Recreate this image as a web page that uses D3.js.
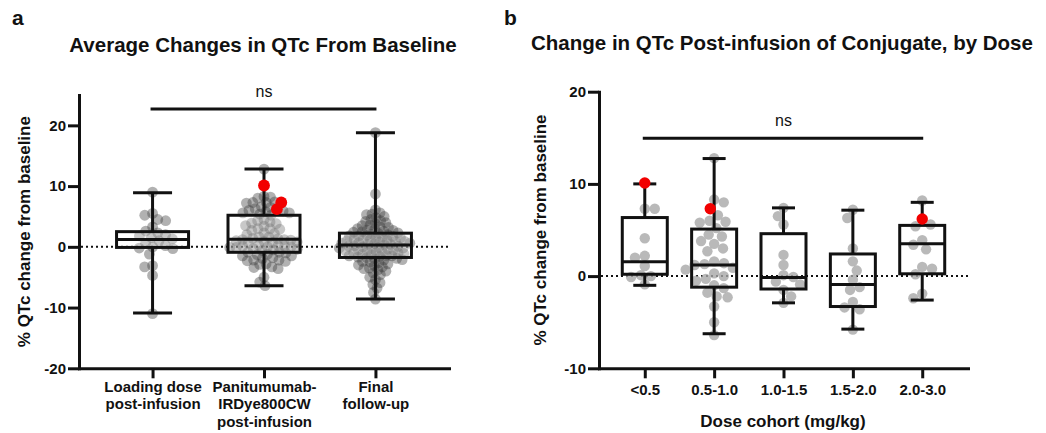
<!DOCTYPE html>
<html>
<head>
<meta charset="utf-8">
<script src="https://cdn.jsdelivr.net/npm/d3@7"></script>
<style>
body { margin: 0; background: #fff; }
svg { display: block; font-family: "Liberation Sans", Arial, Helvetica, sans-serif; }
</style>
</head>
<body>
<div id="chart"></div>
<script>
// Panel a categories
const avgCats = [
    ['Loading dose', 'post-infusion'],
    ['Panitumumab-', 'IRDye800CW', 'post-infusion'],
    ['Final', 'follow-up'],
];
// Panel b categories
const doseCats = ['<0.5', '0.5-1.0', '1.0-1.5', '1.5-2.0', '2.0-3.0'];

// Per-patient % QTc change (panel b)
const doseLt05 = [7.3, 7.3, 4.1, 2.2, 2.0, 1.1, 0.1, 0.0, -0.1, -0.9];
const dose05to10 = [12.8, 8.3, 8.0, 6.6, 6.0, 5.9, 5.8, 5.2, 4.5, 4.3, 3.8, 3.5, 3.0, 2.7,
    1.6, 1.4, 1.3, 1.2, 0.9, 0.7, 0.3, 0.0, -0.3, -0.5, -1.0, -1.3, -1.8, -2.2, -2.3,
    -3.3, -5.0, -6.4];
const dose10to15 = [7.4, 6.5, 5.6, 2.3, 1.2, 0.1, -0.1, -0.6, -0.9, -1.5, -2.2, -2.9];
const dose15to20 = [7.2, 6.3, 3.0, 1.6, 0.6, -0.4, -1.2, -1.5, -2.8, -3.4, -3.6, -5.8];
const dose20to30 = [8.2, 5.6, 5.4, 3.9, 3.4, 2.9, 1.0, 0.8, 0.2, -1.9, -2.4];
// highlighted (red) patients per dose cohort
const doseRed = [10.1, 7.3, null, null, 6.2];

// Panel a groups
const loadingDose = [9.0, 5.5, 5.2, 4.5, 4.3, 3.3, 2.6, 2.3, 2.0, 1.8, 1.5, 1.3, 1.0, 0.6,
    0.2, 0.0, -0.2, -0.3, -1.2, -3.1, -3.3, -4.7, -11.0];
const finalFollowUp = [18.8, 8.7, 6.1, 5.6, 5.4, 5.3, 5.0, 4.8, 4.5, 4.3, 4.2, 4.0, 3.8, 3.6,
    3.5, 3.3, 3.2, 3.0, 2.9, 2.8, 2.7, 2.6, 2.5, 2.4, 2.3,
    2.2, 2.1, 2.0, 1.9, 1.8, 1.8, 1.7, 1.6, 1.5, 1.4, 1.3, 1.2, 1.2, 1.1, 1.0, 0.9, 0.9,
    0.8, 0.7, 0.6, 0.6, 0.5, 0.4, 0.4, 0.3,
    0.2, 0.1, 0.1, 0.0, -0.1, -0.2, -0.2, -0.3, -0.4, -0.5, -0.5, -0.6, -0.7, -0.8, -0.9,
    -1.0, -1.0, -1.1, -1.2, -1.3, -1.4, -1.5, -1.5, -1.6, -1.7,
    -1.8, -1.9, -2.0, -2.1, -2.2, -2.4, -2.5, -2.6, -2.8, -3.0, -3.1, -3.3, -3.5, -3.6,
    -3.8, -4.0, -4.3, -4.6, -5.0, -5.4, -5.9, -6.2, -6.8, -7.5, -8.6];

// Box summaries (min, Q1, median, Q3, max)
const avgMin = [-10.9, -6.4, -8.6];
const avgQ1 = [-0.1, -0.9, -1.75];
const avgMed = [1.2, 1.25, 0.3];
const avgQ3 = [2.5, 5.2, 2.25];
const avgMax = [8.9, 12.8, 18.8];

const doseMin = [-1.0, -6.25, -2.9, -5.75, -2.6];
const doseQ1 = [0.2, -1.2, -1.4, -3.3, 0.25];
const doseMed = [1.55, 1.2, -0.15, -0.9, 3.5];
const doseQ3 = [6.35, 5.1, 4.6, 2.4, 5.5];
const doseMax = [10.0, 12.75, 7.4, 7.15, 8.0];

const doseGroups = [doseLt05, dose05to10, dose10to15, dose15to20, dose20to30];

function items(vals, red) {
    const out = vals.map(v => ({ v: v, red: false }));
    (red || []).forEach(v => { if (v !== null) out.push({ v: v, red: true }); });
    return out;
}

const avgItems = [
    items(loadingDose),
    items([].concat(...doseGroups), doseRed),
    items(finalFollowUp),
];
const doseItems = doseGroups.map((vals, i) => items(vals, [doseRed[i]]));

const svg = d3.select('#chart')
    .append('svg')
    .attr('width', 1046)
    .attr('height', 433);

svg.append('rect').attr('width', 1046).attr('height', 433).attr('fill', '#fff');

// simple beeswarm: each point goes to the nearest free slot to the centre
function swarm(list, y, d, flip) {
    const placed = [];
    const order = list.map(p => ({ v: p.v, red: p.red, py: y(p.v) }))
        .sort((a, b) => a.py - b.py);
    order.forEach((p, k) => {
        const near = placed.filter(q => Math.abs(q.py - p.py) < d);
        const cands = [0];
        near.forEach(q => {
            const dx = Math.sqrt(d * d - (q.py - p.py) ** 2);
            cands.push(q.dx + dx, q.dx - dx);
        });
        cands.sort((a, b) => Math.abs(a) - Math.abs(b) || ((k + flip) % 2 ? a - b : b - a));
        p.dx = cands.find(c => near.every(q =>
            (c - q.dx) ** 2 + (q.py - p.py) ** 2 >= d * d - 0.01));
        placed.push(p);
    });
    return order;
}

function drawPanel(cfg) {
    const g = svg.append('g');
    const n = cfg.groups.length;
    const x = d3.scalePoint().domain(d3.range(n)).range(cfg.xRange).padding(0.66);
    const y = d3.scaleLinear().domain(cfg.yDomain).range(cfg.yRange);

    // dotted zero line
    g.append('line')
        .attr('x1', cfg.xRange[0] + 2).attr('x2', cfg.xRange[1])
        .attr('y1', y(0)).attr('y2', y(0))
        .attr('stroke', '#111').attr('stroke-width', 2)
        .attr('stroke-dasharray', '2,3');

    const laid = cfg.groups.map((list, i) => swarm(list, y, cfg.dist[i], cfg.flip));

    // grey points
    laid.forEach((pts, i) => {
        g.append('g').selectAll('circle')
            .data(pts.filter(p => !p.red))
            .enter()
            .append('circle')
            .attr('cx', p => x(i) + p.dx)
            .attr('cy', p => p.py)
            .attr('r', cfg.r)
            .attr('fill', cfg.dotColor)
            .attr('fill-opacity', cfg.dotOpacity);
    });

    // boxes and whiskers
    const bw = cfg.boxWidth, cw = cfg.capWidth;
    d3.range(n).forEach(i => {
        const cx = x(i);
        const s = { lo: cfg.min[i], q1: cfg.q1[i], med: cfg.med[i], q3: cfg.q3[i], hi: cfg.max[i] };
        const line = (x1, y1, x2, y2) => g.append('line')
            .attr('x1', x1).attr('y1', y1).attr('x2', x2).attr('y2', y2)
            .attr('stroke', '#111').attr('stroke-width', 3);
        line(cx, y(s.q3), cx, y(s.hi));
        line(cx, y(s.q1), cx, y(s.lo));
        line(cx - cw / 2, y(s.hi), cx + cw / 2, y(s.hi));
        line(cx - cw / 2, y(s.lo), cx + cw / 2, y(s.lo));
        g.append('rect')
            .attr('x', cx - bw / 2).attr('y', y(s.q3))
            .attr('width', bw).attr('height', y(s.q1) - y(s.q3))
            .attr('fill', '#fff').attr('fill-opacity', cfg.boxFill)
            .attr('stroke', '#111').attr('stroke-width', 3);
        line(cx - bw / 2, y(s.med), cx + bw / 2, y(s.med));
    });

    // red highlighted patients
    laid.forEach((pts, i) => {
        g.append('g').selectAll('circle')
            .data(pts.filter(p => p.red))
            .enter()
            .append('circle')
            .attr('cx', p => x(i) + p.dx)
            .attr('cy', p => p.py)
            .attr('r', cfg.r + 0.5)
            .attr('fill', '#f20000');
    });

    // axes
    const yAxis = g.append('g')
        .attr('transform', 'translate(' + cfg.xRange[0] + ',0)')
        .call(d3.axisLeft(y).tickValues(cfg.yTicks).tickSize(11).tickPadding(2).tickSizeOuter(0)
            .tickFormat(d => String(d)));
    const xAxis = g.append('g')
        .attr('transform', 'translate(0,' + cfg.yRange[0] + ')')
        .call(d3.axisBottom(x).tickSize(10).tickPadding(cfg.xPad).tickSizeOuter(0)
            .tickFormat(i => ''));
    [yAxis, xAxis].forEach(a => {
        a.select('.domain').attr('stroke', '#111').attr('stroke-width', 3)
            .attr('stroke-linecap', 'square');
        a.selectAll('.tick line').attr('stroke', '#111').attr('stroke-width', 3);
        a.selectAll('.tick text')
            .attr('fill', '#111')
            .style('font-size', '15px')
            .style('font-weight', 'bold');
    });
    xAxis.selectAll('.tick text').each(function (i) {
        const t = d3.select(this);
        const lines = [].concat(cfg.cats[i]);
        lines.forEach((l, j) => {
            t.append('tspan').attr('x', 0).attr('dy', j ? '1.17em' : '0.71em').text(l);
        });
    });

    // y axis title
    g.append('text')
        .attr('transform', 'translate(' + cfg.yTitleX + ',' + (cfg.yRange[0] + cfg.yRange[1]) / 2 + ') rotate(-90)')
        .attr('text-anchor', 'middle')
        .attr('fill', '#111')
        .style('font-size', '17px')
        .style('font-weight', 'bold')
        .text('% QTc change from baseline');

    // significance bar
    g.append('line')
        .attr('x1', x(0) - 2).attr('x2', x(n - 1) + 1)
        .attr('y1', cfg.nsY).attr('y2', cfg.nsY)
        .attr('stroke', '#111').attr('stroke-width', 3);
    g.append('text')
        .attr('x', (x(0) + x(n - 1)) / 2)
        .attr('y', cfg.nsY - 12)
        .attr('text-anchor', 'middle')
        .attr('fill', '#111')
        .style('font-size', '16px')
        .text('ns');

    // title and panel letter
    g.append('text')
        .attr('x', cfg.titleX).attr('y', cfg.titleY)
        .attr('text-anchor', 'middle')
        .attr('fill', '#111')
        .style('font-size', '20.5px').style('font-weight', 'bold')
        .text(cfg.title);
    g.append('text')
        .attr('x', cfg.letterX).attr('y', 25)
        .attr('fill', '#111')
        .style('font-size', '21px').style('font-weight', 'bold')
        .text(cfg.letter);

    return { x: x, y: y, g: g };
}

drawPanel({
    groups: avgItems, cats: avgCats,
    min: avgMin, q1: avgQ1, med: avgMed, q3: avgQ3, max: avgMax,
    xRange: [79, 449], yRange: [368.3, 95], yDomain: [-20, 25],
    yTicks: [-20, -10, 0, 10, 20],
    r: 5.4, dist: [8, 6.5, 5.5], flip: 1, dotColor: '#3c3c3c', dotOpacity: 0.4, boxFill: 0.3,
    boxWidth: 72, capWidth: 39, xPad: 3,
    yTitleX: 30, nsY: 109,
    title: 'Average Changes in QTc From Baseline', titleX: 263, titleY: 52,
    letter: 'a', letterX: 12,
});

const b = drawPanel({
    groups: doseItems, cats: doseCats,
    min: doseMin, q1: doseQ1, med: doseMed, q3: doseQ3, max: doseMax,
    xRange: [599, 968], yRange: [368.3, 91.7], yDomain: [-10, 20],
    yTicks: [-10, 0, 10, 20],
    r: 5.2, dist: [10, 10, 10, 10, 10], flip: 0, dotColor: '#a8a8a8', dotOpacity: 0.8, boxFill: 0,
    boxWidth: 45, capWidth: 23, xPad: 6,
    yTitleX: 546, nsY: 138.3,
    title: 'Change in QTc Post-infusion of Conjugate, by Dose', titleX: 782, titleY: 50,
    letter: 'b', letterX: 504,
});

b.g.append('text')
    .attr('x', 783).attr('y', 426.7)
    .attr('text-anchor', 'middle')
    .attr('fill', '#111')
    .style('font-size', '17px').style('font-weight', 'bold')
    .text('Dose cohort (mg/kg)');
</script>
</body>
</html>
